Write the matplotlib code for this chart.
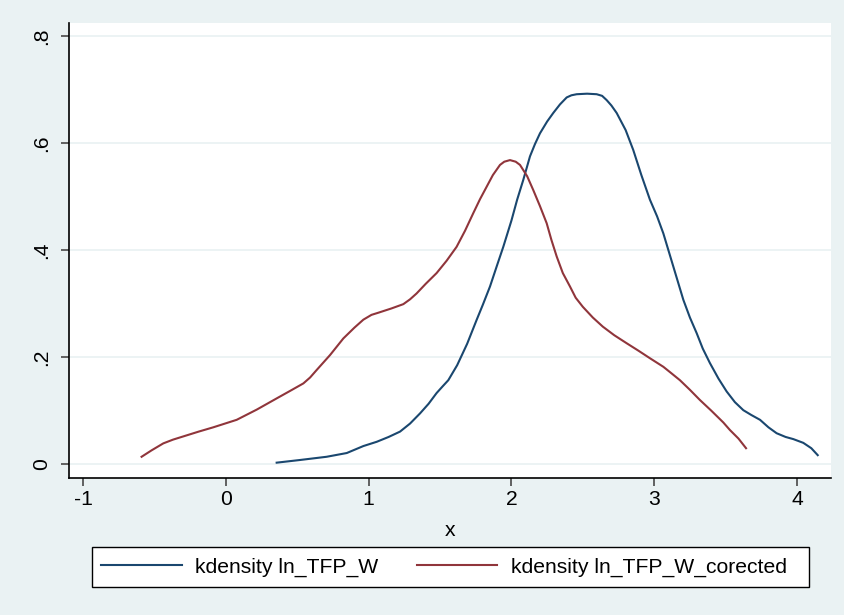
import matplotlib
matplotlib.use("Agg")
import matplotlib.pyplot as plt
from matplotlib.patches import Rectangle

plt.rcParams['font.family'] = ['Liberation Sans', 'DejaVu Sans']

# kdensity ln_TFP_W
tfp_x = [0.356, 0.52, 0.706, 0.847, 0.963, 1.057, 1.14, 1.22, 1.29, 1.36, 1.42,
         1.476, 1.52, 1.558, 1.62, 1.69, 1.757, 1.80, 1.85, 1.90, 1.943, 2.00, 2.04,
         2.083, 2.13, 2.165, 2.20, 2.25, 2.293, 2.34, 2.387, 2.42, 2.457, 2.53, 2.597,
         2.635, 2.667, 2.70, 2.737, 2.80, 2.853, 2.91, 2.97, 3.02, 3.064, 3.134,
         3.204, 3.25, 3.297, 3.34, 3.39, 3.45, 3.507, 3.565, 3.624, 3.68,
         3.741, 3.80, 3.857, 3.92, 3.974, 4.044, 4.10, 4.145]
tfp_y = [0.003, 0.008, 0.014, 0.021, 0.034, 0.042, 0.051, 0.061, 0.076, 0.095, 0.113,
         0.133, 0.146, 0.157, 0.185, 0.225, 0.27, 0.298, 0.332, 0.372, 0.406, 0.455, 0.494,
         0.531, 0.575, 0.598, 0.618, 0.640, 0.656, 0.672, 0.685, 0.689, 0.691, 0.692, 0.691,
         0.688, 0.680, 0.670, 0.656, 0.624, 0.587, 0.540, 0.494, 0.463, 0.431, 0.369,
         0.307, 0.274, 0.245, 0.216, 0.189, 0.160, 0.136, 0.116, 0.101, 0.092,
         0.083, 0.069, 0.058, 0.051, 0.047, 0.040, 0.030, 0.017]

# kdensity ln_TFP_W_corected
cor_x = [-0.59, -0.52, -0.438, -0.37, -0.298, -0.19, -0.088, 0.076, 0.216, 0.356,
         0.45, 0.543, 0.59, 0.636, 0.73, 0.823, 0.90, 0.963, 1.02, 1.068, 1.16,
         1.243, 1.29, 1.336, 1.40, 1.476, 1.546, 1.616, 1.675, 1.733, 1.78, 1.826,
         1.87, 1.92, 1.95, 1.99, 2.03, 2.06, 2.11, 2.153, 2.20, 2.247, 2.28, 2.317,
         2.36, 2.41, 2.45, 2.50, 2.57, 2.64, 2.72, 2.807, 2.89, 2.97, 3.064, 3.12,
         3.18, 3.25, 3.32, 3.40, 3.484, 3.53, 3.59, 3.643]
cor_y = [0.014, 0.026, 0.039, 0.046, 0.052, 0.061, 0.069, 0.083, 0.102, 0.123,
         0.137, 0.151, 0.162, 0.176, 0.204, 0.235, 0.255, 0.270, 0.279, 0.283, 0.291,
         0.299, 0.308, 0.319, 0.337, 0.357, 0.380, 0.406, 0.436, 0.469, 0.495, 0.518,
         0.540, 0.559, 0.565, 0.568, 0.565, 0.559, 0.538, 0.512, 0.482, 0.450, 0.419,
         0.388, 0.357, 0.332, 0.311, 0.294, 0.274, 0.257, 0.241, 0.226, 0.212, 0.198,
         0.182, 0.170, 0.157, 0.139, 0.120, 0.100, 0.078, 0.064, 0.048, 0.030]

x_ticks = [-1, 0, 1, 2, 3, 4]
y_ticks = [0, 0.2, 0.4, 0.6, 0.8]
y_tick_labels = ['0', '.2', '.4', '.6', '.8']

bg = '#EAF2F3'
fs = 15.2

fig = plt.figure(figsize=(8.44, 6.15), dpi=100, facecolor=bg)
ax = fig.add_axes([0.0818, 0.2228, 0.9028, 0.7398])
ax.set_facecolor('white')

ax.plot(tfp_x, tfp_y, color='#1A476F', lw=1.5, label='kdensity ln_TFP_W')
ax.plot(cor_x, cor_y, color='#90353B', lw=1.5, label='kdensity ln_TFP_W_corected')

ax.set_xlim(-1.098, 4.238)
ax.set_ylim(-0.0256, 0.824)

ax.set_xticks(x_ticks)
ax.set_xticklabels([str(t) for t in x_ticks], fontsize=fs)
ax.set_yticks(y_ticks)
ax.set_yticklabels(y_tick_labels, fontsize=fs, rotation=90, va='center')
ax.tick_params(axis='both', length=6, width=1.3, color='#555555')
ax.tick_params(axis='x', pad=3)
ax.tick_params(axis='y', pad=7)

# horizontal grid only
ax.grid(axis='y', color=bg, lw=1.3)
ax.set_axisbelow(True)

for side in ['top', 'right']:
    ax.spines[side].set_visible(False)
for side in ['left', 'bottom']:
    ax.spines[side].set_color('black')
    ax.spines[side].set_linewidth(1.2)

ax.set_xlabel('x', fontsize=fs, labelpad=8)

# legend box drawn separately (Stata pads the right side more)
fig.patches.append(Rectangle((92 / 844, 28 / 615), 717 / 844, 40 / 615,
                             transform=fig.transFigure, facecolor='white',
                             edgecolor='black', lw=1.0, zorder=0))
leg = fig.legend(loc='center', bbox_to_anchor=(0.5261, 0.0775), ncol=2,
                 fontsize=fs, frameon=False,
                 handlelength=3.8, handletextpad=0.65, columnspacing=1.8,
                 borderpad=0.45, borderaxespad=0)

fig.savefig('out.png', dpi=100, facecolor=bg)
